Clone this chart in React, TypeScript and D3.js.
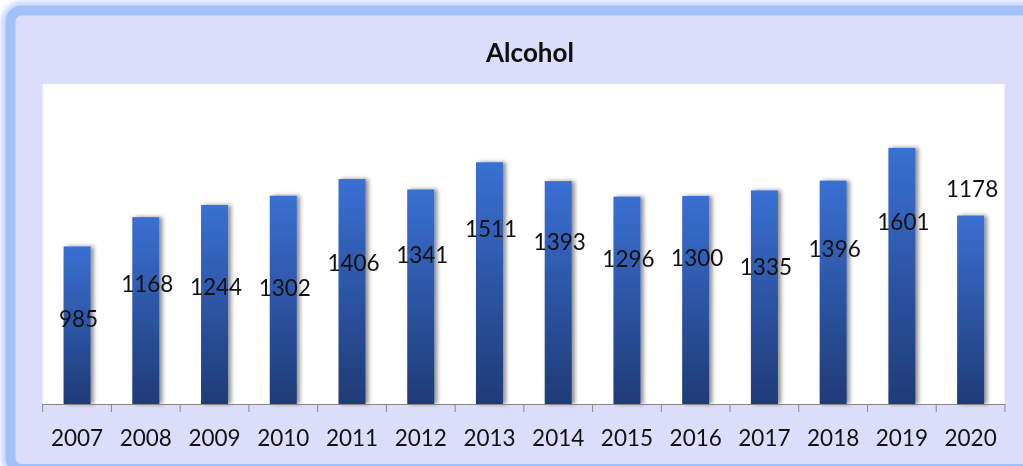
import React from 'react';
import * as d3 from 'd3';

const years = ['2007', '2008', '2009', '2010', '2011', '2012', '2013', '2014', '2015', '2016', '2017', '2018', '2019', '2020'];
const values = [985, 1168, 1244, 1302, 1406, 1341, 1511, 1393, 1296, 1300, 1335, 1396, 1601, 1178];
// where each data label's baseline sits, in value units (labels were placed by hand in the original)
const labelAt = [479, 702, 681, 675, 833, 879, 1042, 962, 854, 865, 806, 921, 1087, 1296];
const yDomain = [0, 2000];

const W = 1023;
const H = 466;
const plot = { left: 42.7, right: 1005, top: 84, bottom: 404 };
const font = 'Lato, "Open Sans", sans-serif';

export default function App() {
  const x = d3.scaleBand<string>()
    .domain(years)
    .range([plot.left, plot.right])
    .paddingInner(0.607)
    .paddingOuter(0.3035);
  const y = d3.scaleLinear().domain(yDomain).range([plot.bottom, plot.top]);
  const step = x.step();
  const tickXs = d3.range(years.length + 1).map(i => plot.left + i * step);

  return (
    <div style={{ position: 'fixed', left: 0, top: 0 }}>
      <svg width={W} height={H} style={{ display: 'block' }}>
        <defs>
          <linearGradient id="barGrad" x1="0" y1="0" x2="0" y2="1">
            <stop offset="0%" stopColor="#3a70d3" />
            <stop offset="100%" stopColor="#1f3b76" />
          </linearGradient>
          <filter id="barShadow" x="-30%" y="-5%" width="160%" height="110%">
            <feDropShadow dx="3" dy="0" stdDeviation="2.2" floodColor="#000" floodOpacity="0.45" />
          </filter>
          <filter id="glow" x="-5%" y="-5%" width="110%" height="110%">
            <feGaussianBlur stdDeviation="2.5" />
          </filter>
        </defs>

        {/* outer frame */}
        <rect x={8} y={8} width={1030} height={463} rx={14} fill="none"
          stroke="#c6d8fb" strokeWidth={14} filter="url(#glow)" />
        <rect x={10.5} y={10.5} width={1025} height={458.5} rx={11}
          fill="#dcdcfb" stroke="#a3c1f9" strokeWidth={10} />

        {/* plot area */}
        <rect x={plot.left} y={plot.top} width={1004.5 - plot.left} height={plot.bottom - plot.top} fill="#ffffff" />

        <text x={530} y={62} textAnchor="middle" fontFamily={font} fontWeight="bold"
          fontSize={26} fill="#0d0d0d">Alcohol</text>

        {/* bars */}
        {years.map((yr, i) => (
          <rect key={yr} x={x(yr)} y={y(values[i])} width={x.bandwidth()}
            height={y(0) - y(values[i])} fill="url(#barGrad)" filter="url(#barShadow)" />
        ))}

        {/* category axis */}
        <line x1={plot.left} x2={plot.right} y1={plot.bottom + 0.5} y2={plot.bottom + 0.5} stroke="#878787" strokeWidth={1} />
        {tickXs.map((tx, i) => (
          <line key={i} x1={tx} x2={tx} y1={plot.bottom} y2={plot.bottom + 8} stroke="#878787" strokeWidth={1} />
        ))}
        {years.map(yr => (
          <text key={yr} x={(x(yr) ?? 0) + x.bandwidth() / 2} y={445.5} textAnchor="middle"
            fontFamily={font} fontSize={22.5} fill="#111">{yr}</text>
        ))}

        {/* data labels */}
        {years.map((yr, i) => (
          <text key={yr} x={(x(yr) ?? 0) + x.bandwidth() / 2 + 1.5} y={y(labelAt[i])} textAnchor="middle"
            fontFamily={font} fontSize={22.5} fill="#111">{values[i]}</text>
        ))}
      </svg>
    </div>
  );
}
